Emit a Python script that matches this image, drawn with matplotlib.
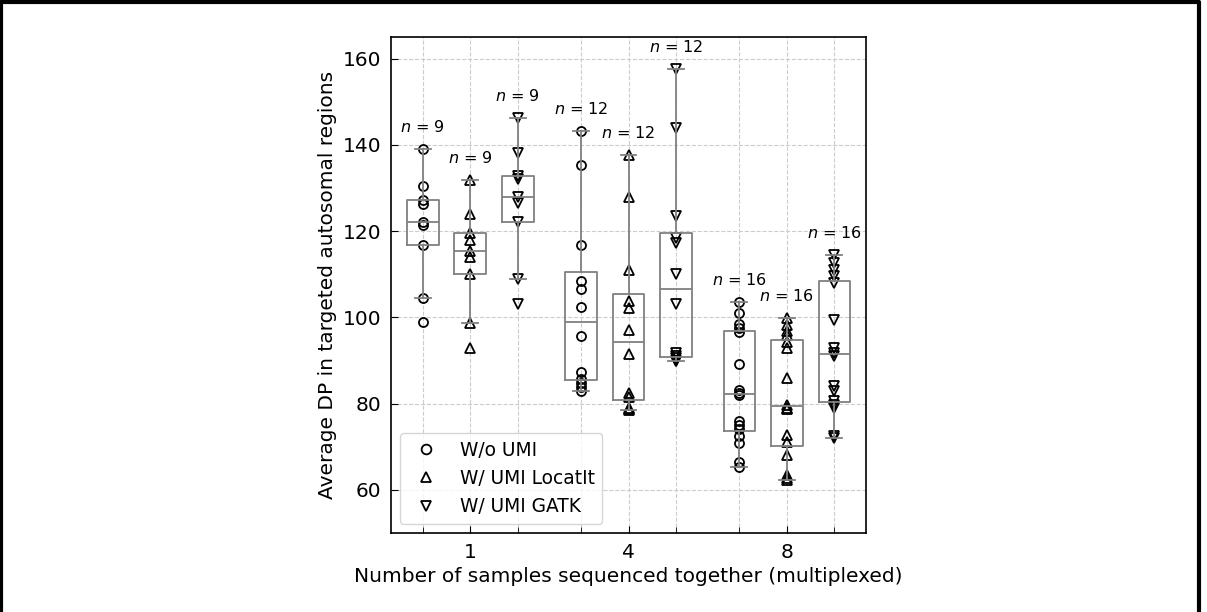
import numpy as np
import matplotlib.pyplot as plt
from matplotlib.lines import Line2D

# groups on the x axis (number of multiplexed samples)
group_labels = ['1', '4', '8']
series_names = ['W/o UMI', 'W/ UMI LocatIt', 'W/ UMI GATK']
series_markers = ['o', '^', 'v']

# average DP values, one list per group
wo_umi = [
    [139.0, 130.5, 127.2, 126.3, 122.0, 121.5, 116.8, 104.6, 98.9],
    [143.2, 135.3, 116.8, 108.4, 106.5, 102.4, 95.6, 87.3, 85.6, 84.8, 83.8, 82.9],
    [103.5, 101.0, 98.5, 97.5, 96.5, 89.2, 83.2, 82.5, 82.0, 76.0, 75.0, 74.2,
     72.5, 70.8, 66.5, 65.2],
]
locatit = [
    [131.9, 124.0, 119.5, 118.0, 115.5, 114.0, 110.0, 98.7, 92.8],
    [137.7, 128.0, 111.0, 103.7, 102.2, 97.0, 91.5, 82.5, 81.5, 79.0, 78.8, 78.6],
    [99.8, 98.3, 96.8, 96.0, 94.4, 92.9, 86.0, 79.8, 78.8, 79.0, 72.8, 71.0,
     68.0, 63.5, 62.8, 62.2],
]
gatk = [
    [146.3, 138.0, 132.8, 132.0, 127.8, 126.5, 122.0, 109.0, 103.0],
    [157.7, 143.8, 123.5, 118.3, 117.3, 110.0, 103.0, 91.8, 91.0, 90.5, 90.0, 89.8],
    [114.5, 112.5, 111.0, 109.5, 108.0, 99.5, 93.0, 91.8, 91.0, 84.1, 83.0, 80.5,
     79.8, 79.1, 72.6, 72.0],
]
all_series = [wo_umi, locatit, gatk]

offsets = [-0.3, 0.0, 0.3]
box_gray = '#808080'

fig = plt.figure(figsize=(12.07, 6.12), dpi=100)
ax = fig.add_axes([0.324, 0.129, 0.3935, 0.8105])

minor_pos = []
for s, series in enumerate(all_series):
    pos = [g + offsets[s] for g in range(len(group_labels))]
    minor_pos += pos
    for g, vals in enumerate(series):
        ax.plot([pos[g]] * len(vals), vals, linestyle='none',
                marker=series_markers[s], markersize=6.5, mfc='none',
                mec='black', mew=1.3, zorder=2)
        ax.annotate('$n$ = %d' % len(vals), xy=(pos[g], max(vals)),
                    xytext=(0, 10), textcoords='offset points',
                    ha='center', va='bottom', fontsize=11.5)
    ax.boxplot(series, positions=pos, widths=0.2, capwidths=0.1,
               showfliers=False, manage_ticks=False,
               boxprops=dict(color=box_gray, lw=1.3),
               whiskerprops=dict(color=box_gray, lw=1.3),
               capprops=dict(color=box_gray, lw=1.3),
               medianprops=dict(color=box_gray, lw=1.3), zorder=3)

ax.set_xlim(-0.5, 2.5)
ax.set_ylim(50, 165)
ax.set_xticks(range(len(group_labels)))
ax.set_xticklabels(group_labels)
ax.set_xticks(sorted(minor_pos), minor=True)
ax.set_yticks(np.arange(60, 161, 20))
ax.tick_params(which='both', direction='in', labelsize=14.5, pad=7)
ax.tick_params(which='major', length=5)
ax.tick_params(which='minor', length=4)
ax.grid(True, which='both', axis='x', linestyle='--', color='#cccccc', lw=0.8)
ax.grid(True, which='major', axis='y', linestyle='--', color='#cccccc', lw=0.8)
ax.set_axisbelow(True)
for sp in ax.spines.values():
    sp.set_linewidth(1.2)

ax.set_xlabel('Number of samples sequenced together (multiplexed)', fontsize=14.5)
ax.set_ylabel('Average DP in targeted autosomal regions', fontsize=14.5)

handles = [Line2D([], [], linestyle='none', marker=m, markersize=7, mfc='none',
                  mec='black', mew=1.3) for m in series_markers]
ax.legend(handles, series_names, loc='lower left', fontsize=13.4)

# frame around the whole picture
fig.add_artist(Line2D([0.001, 0.001, 0.9935, 0.9935], [0.0, 0.996, 0.996, 0.0],
                      transform=fig.transFigure, color='black', lw=3))

fig.savefig('out.png', dpi=100)
